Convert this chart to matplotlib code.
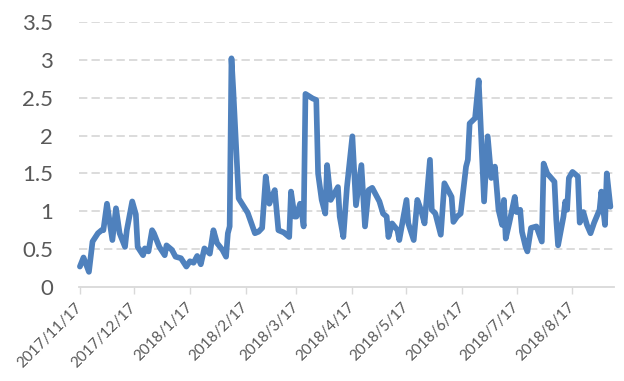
import numpy as np
import matplotlib
matplotlib.use("Agg")
import matplotlib.pyplot as plt

plt.rcParams['font.family'] = ['Lato', 'DejaVu Sans']

# Day offsets from 2017-11-17 and values
start_date = "2017-11-17"
day_offsets = [
    0, 2, 5, 7, 10, 12, 13, 15, 18, 20, 22, 25, 26, 29, 31, 32, 35, 36, 38, 40,
    41, 44, 47, 48, 51, 53, 56, 59, 61, 63, 65, 67, 69, 72, 74, 76, 79, 81, 82, 83,
    84, 85, 88, 93, 97, 99, 101, 103, 105, 106, 108, 110, 113, 116, 117, 119, 120, 122, 123, 124,
    125, 129, 131, 132, 134, 136, 137, 139, 143, 144, 146, 148, 151, 153, 156, 158, 160, 162, 166, 168,
    170, 171, 173, 176, 177, 181, 182, 185, 187, 189, 191, 194, 195, 197, 200, 202, 206, 207, 209, 211,
    214, 215, 216, 219, 221, 224, 226, 228, 230, 232, 234, 235, 236, 238, 241, 242, 244, 245, 247, 248,
    250, 253, 256, 257, 259, 263, 264, 265, 268, 269, 270, 271, 273, 276, 277, 279, 281, 283, 285, 288,
    289, 291, 292, 294,
]
values = [
    0.27, 0.39, 0.20, 0.60, 0.71, 0.75, 0.75, 1.10, 0.62, 1.04, 0.71, 0.53, 0.75, 1.13, 0.96, 0.53, 0.42, 0.51, 0.47, 0.75,
    0.71, 0.53, 0.42, 0.55, 0.49, 0.40, 0.38, 0.27, 0.34, 0.32, 0.41, 0.30, 0.51, 0.44, 0.75, 0.58, 0.49, 0.40, 0.71, 0.80,
    3.02, 2.60, 1.17, 0.98, 0.71, 0.73, 0.78, 1.46, 1.10, 1.17, 1.28, 0.75, 0.72, 0.66, 1.26, 0.93, 0.93, 1.10, 0.98, 0.80,
    2.55, 2.49, 2.47, 1.50, 1.15, 0.97, 1.61, 1.15, 1.32, 0.93, 0.66, 1.32, 1.99, 1.08, 1.61, 0.80, 1.28, 1.31, 1.13, 0.97,
    0.93, 0.66, 0.84, 0.75, 0.62, 1.15, 0.84, 0.62, 1.15, 1.02, 0.84, 1.68, 1.02, 0.97, 0.69, 1.37, 1.19, 0.86, 0.93, 0.97,
    1.59, 1.68, 2.16, 2.23, 2.73, 1.13, 1.99, 1.44, 1.59, 1.02, 0.82, 1.15, 0.64, 0.85, 1.19, 0.99, 1.02, 0.73, 0.53, 0.47,
    0.78, 0.80, 0.60, 1.63, 1.50, 1.39, 0.89, 0.55, 0.93, 1.13, 1.02, 1.44, 1.52, 1.46, 0.85, 0.99, 0.82, 0.71, 0.85, 1.02,
    1.26, 0.82, 1.50, 1.06,
]
tick_dates = ["2017-11-17", "2017-12-17", "2018-01-17", "2018-02-17", "2018-03-17",
              "2018-04-17", "2018-05-17", "2018-06-17", "2018-07-17", "2018-08-17"]
tick_labels = ["2017/11/17", "2017/12/17", "2018/1/17", "2018/2/17", "2018/3/17",
               "2018/4/17", "2018/5/17", "2018/6/17", "2018/7/17", "2018/8/17"]
y_ticks = [0, 0.5, 1, 1.5, 2, 2.5, 3, 3.5]
y_labels = ["0", "0.5", "1", "1.5", "2", "2.5", "3", "3.5"]

base = np.datetime64(start_date)
dates = base + np.array(day_offsets).astype("timedelta64[D]")

fig = plt.figure(figsize=(6.24, 3.81), dpi=100)
ax = fig.add_axes([79 / 624, 1 - 287 / 381, (614 - 79) / 624, (287 - 22) / 381])

grid_c = "#D9D9D9"
text_c = "#595959"

for yv in y_ticks[1:]:
    ax.axhline(yv, color=grid_c, lw=1.3, dashes=(6.0 / 1.3, 3.0 / 1.3), zorder=1)

ax.plot(dates, values, color="#4F81BD", lw=4.1, solid_joinstyle="round",
        solid_capstyle="round", zorder=3, clip_on=False)

ax.set_ylim(0, 3.5)
ax.set_xlim(base - np.timedelta64(12, "h"), base + np.timedelta64(296, "D"))

ax.set_yticks(y_ticks)
ax.set_yticklabels(y_labels)
ax.tick_params(axis="y", length=0, pad=18.5, labelsize=16, labelcolor=text_c)

tick_pos = np.array(tick_dates, dtype="datetime64[D]")
ax.set_xticks(tick_pos)
ax.set_xticklabels(tick_labels, rotation=45, ha="right", va="center", rotation_mode="anchor")
ax.tick_params(axis="x", length=5, width=1, color=grid_c, pad=8, labelsize=11, labelcolor=text_c)

for s in ["top", "right", "left"]:
    ax.spines[s].set_visible(False)
ax.spines["bottom"].set_color(grid_c)
ax.spines["bottom"].set_linewidth(1.3)

fig.savefig("out.png", dpi=100)
